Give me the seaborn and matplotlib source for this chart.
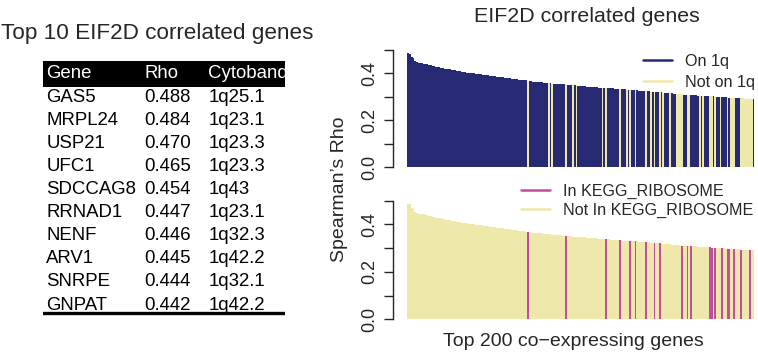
import numpy as np
import pandas as pd
import matplotlib
matplotlib.use("Agg")
import matplotlib.pyplot as plt
from matplotlib.lines import Line2D
import seaborn as sns

# %%
# Top 10 table
table_genes = ["GAS5", "MRPL24", "USP21", "UFC1", "SDCCAG8",
               "RRNAD1", "NENF", "ARV1", "SNRPE", "GNPAT"]
table_rho = ["0.488", "0.484", "0.470", "0.465", "0.454",
             "0.447", "0.446", "0.445", "0.444", "0.442"]
table_band = ["1q25.1", "1q23.1", "1q23.3", "1q23.3", "1q43",
              "1q23.1", "1q32.3", "1q42.2", "1q32.1", "1q42.2"]

# Spearman rho for top 200 co-expressing genes
rho = [
    0.488, 0.484, 0.470, 0.465, 0.454, 0.447, 0.446, 0.445, 0.444, 0.442,
    0.440, 0.439, 0.437, 0.435, 0.433, 0.431, 0.429, 0.428, 0.426, 0.425,
    0.423, 0.421, 0.420, 0.418, 0.417, 0.416, 0.414, 0.413, 0.411, 0.410,
    0.409, 0.407, 0.406, 0.405, 0.404, 0.403, 0.402, 0.401, 0.400, 0.399,
    0.398, 0.397, 0.396, 0.395, 0.394, 0.393, 0.392, 0.391, 0.390, 0.389,
    0.388, 0.387, 0.386, 0.385, 0.384, 0.383, 0.382, 0.381, 0.380, 0.379,
    0.378, 0.377, 0.376, 0.375, 0.374, 0.373, 0.372, 0.371, 0.370, 0.368,
    0.367, 0.366, 0.365, 0.365, 0.364, 0.363, 0.362, 0.362, 0.361, 0.360,
    0.359, 0.359, 0.358, 0.357, 0.357, 0.356, 0.355, 0.355, 0.354, 0.353,
    0.353, 0.352, 0.351, 0.351, 0.350, 0.349, 0.349, 0.348, 0.347, 0.347,
    0.346, 0.346, 0.345, 0.344, 0.344, 0.343, 0.343, 0.342, 0.341, 0.341,
    0.340, 0.340, 0.339, 0.339, 0.338, 0.337, 0.337, 0.336, 0.336, 0.335,
    0.335, 0.334, 0.333, 0.333, 0.332, 0.332, 0.331, 0.331, 0.330, 0.330,
    0.329, 0.328, 0.328, 0.327, 0.327, 0.326, 0.326, 0.325, 0.324, 0.324,
    0.323, 0.322, 0.322, 0.321, 0.320, 0.320, 0.319, 0.318, 0.318, 0.317,
    0.316, 0.316, 0.315, 0.314, 0.313, 0.313, 0.312, 0.311, 0.311, 0.310,
    0.310, 0.309, 0.309, 0.308, 0.308, 0.307, 0.307, 0.306, 0.306, 0.305,
    0.305, 0.304, 0.304, 0.303, 0.303, 0.302, 0.302, 0.301, 0.301, 0.300,
    0.300, 0.299, 0.299, 0.298, 0.298, 0.297, 0.297, 0.296, 0.296, 0.295,
    0.295, 0.295, 0.294, 0.294, 0.293, 0.293, 0.293, 0.292, 0.292, 0.291,
]

# rank positions (0-based) of genes NOT on 1q
not_1q_idx = [69, 81, 83, 91, 95, 97, 112, 114, 122, 126, 128, 131, 137, 140,
              142, 145, 147, 151, 155, 156, 157, 158, 161, 162, 168, 170, 174,
              175, 177, 180, 184, 186, 187, 188, 192, 193, 194, 195, 196, 197,
              198]
# rank positions of genes in KEGG_RIBOSOME
kegg_idx = [69, 91, 114, 122, 128, 131, 137, 142, 145, 158, 161, 163, 174,
            175, 177, 181, 184, 185, 188, 192, 197]

navy = "#272a73"
pale = "#eee8aa"
magenta = "#c0509f"

df = pd.DataFrame({"rank": np.arange(len(rho)), "rho": rho})
df["on1q"] = np.where(df["rank"].isin(not_1q_idx), "Not on 1q", "On 1q")
df["kegg"] = np.where(df["rank"].isin(kegg_idx), "In KEGG_RIBOSOME", "Not In KEGG_RIBOSOME")

# %%
sns.set_style("ticks")
plt.rcParams["font.family"] = ["Liberation Sans", "DejaVu Sans"]
fs_lab = 14
fs_tick = 13
fs_leg = 11.6
fs_tab = 13.4

fig = plt.figure(figsize=(7.58, 3.55), dpi=100)
W, H = 758, 355


def fig_box(x0, x1, y_top, y_bot):
    return [x0 / W, 1 - y_bot / H, (x1 - x0) / W, (y_bot - y_top) / H]


ax1 = fig.add_axes(fig_box(407.3, 754.3, 50, 167.3))
ax2 = fig.add_axes(fig_box(407.3, 754.3, 200.7, 319.3))

sns.barplot(data=df, x="rank", y="rho", hue="on1q",
            palette={"On 1q": navy, "Not on 1q": pale}, saturation=1,
            dodge=False, width=1.0, linewidth=0, legend=False, ax=ax1)
sns.barplot(data=df, x="rank", y="rho", hue="kegg",
            palette={"In KEGG_RIBOSOME": magenta, "Not In KEGG_RIBOSOME": pale},
            saturation=1, dodge=False, width=1.0, linewidth=0, legend=False,
            ax=ax2)

for ax in (ax1, ax2):
    ax.set_xlim(-0.5, len(rho) - 0.5)
    ax.set_ylim(0, 0.5)
    ax.set_yticks([0, 0.1, 0.2, 0.3, 0.4, 0.5],
                  ["0.0", "", "0.2", "", "0.4", ""])
    ax.set_xticks([])
    ax.set_xlabel("")
    ax.set_ylabel("")
    for s in ("top", "right", "bottom"):
        ax.spines[s].set_visible(False)
    ax.spines["left"].set_position(("outward", 10.5))
    ax.spines["left"].set_linewidth(1.0)
    ax.tick_params(axis="y", length=6.7, width=1.0, pad=4,
                   labelsize=fs_tick, labelrotation=90)
    for lbl in ax.get_yticklabels():
        lbl.set_verticalalignment("center")

ax1.legend(handles=[Line2D([], [], color=navy, lw=1.8),
                    Line2D([], [], color=pale, lw=1.8)],
           labels=["On 1q", "Not on 1q"], loc="upper left",
           bbox_to_anchor=(643 / W, 1 - 54 / H), bbox_transform=fig.transFigure,
           frameon=False, fontsize=fs_leg, borderpad=0, borderaxespad=0,
           handlelength=1.8, handletextpad=0.8, labelspacing=0.35)
ax2.legend(handles=[Line2D([], [], color=magenta, lw=1.8),
                    Line2D([], [], color=pale, lw=1.8)],
           labels=["In KEGG_RIBOSOME", "Not In KEGG_RIBOSOME"], loc="upper left",
           bbox_to_anchor=(520.7 / W, 1 - 184 / H), bbox_transform=fig.transFigure,
           frameon=False, fontsize=fs_leg, borderpad=0, borderaxespad=0,
           handlelength=1.8, handletextpad=0.8, labelspacing=0.2)

fig.text(587 / W, 1 - 16 / H, "EIF2D correlated genes", ha="center",
         va="center", fontsize=15.4)
fig.text(339 / W, 1 - 189 / H, "Spearman\u2019s Rho", rotation=90,
         ha="center", va="center", fontsize=fs_lab)
fig.text(573 / W, 1 - 342 / H, "Top 200 co\u2212expressing genes",
         ha="center", va="center", fontsize=fs_lab)

# %%
# Table of the top 10 genes
fig.text(1 / W, 1 - 34 / H, "Top 10 EIF2D correlated genes", ha="left",
         va="center", fontsize=16.2)

row_px = 23.1
axt = fig.add_axes(fig_box(43.3, 285, 60, 316))
axt.set_xlim(0, 1)
axt.set_ylim((316 - 74) / row_px, (60 - 74) / row_px)
axt.axis("off")
col_x = [0.012, 0.418, 0.683]
axt.axhspan(-0.55, 0.55, color="black", lw=0)
for cx, head in zip(col_x, ["Gene", "Rho", "Cytoband"]):
    axt.text(cx, 0, head, color="white", va="center", fontsize=fs_tab)
for r, (g, v, b) in enumerate(zip(table_genes, table_rho, table_band), start=1):
    for cx, t in zip(col_x, (g, v, b)):
        axt.text(cx, r, t, color="black", va="center", fontsize=fs_tab)
axt.axhline((313.3 - 74) / row_px, color="black", lw=2.4)

fig.savefig("out.png", dpi=100)
